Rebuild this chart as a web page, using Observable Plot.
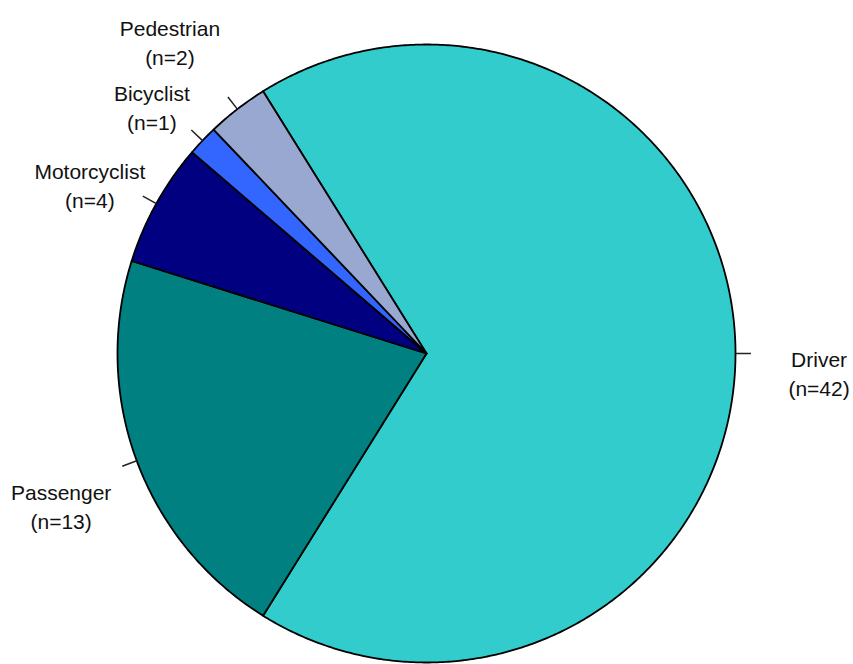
<!DOCTYPE html>
<html>
<head>
<meta charset="utf-8">
<script src="https://cdn.jsdelivr.net/npm/d3@7"></script>
<script src="https://cdn.jsdelivr.net/npm/@observablehq/plot@0.6"></script>
<style>
  html, body { margin: 0; padding: 0; background: #fff; }
  #chart svg { display: block; }
</style>
</head>
<body>
<div id="chart"></div>
<script>
// ---- Data ----
const categories = ["Driver", "Passenger", "Motorcyclist", "Bicyclist", "Pedestrian"];
const counts = [42, 13, 4, 1, 2];

// ---- Styles ----
const colors = ["#33CCCC", "#008080", "#000080", "#3366FF", "#99A8D0"];

// ---- Label layout tweaks (radius factor, angle shift in degrees) ----
const labelRadius = [1.272, 1.28, 1.22, 1.197, 1.307];
const labelShift = [2.8, -2.2, -2.3, -1.5, -1.7];

const total = d3.sum(counts);
const offset = Math.PI / 2 - (counts[0] / total) * Math.PI;
const arcs = d3.pie().sort(null).startAngle(offset).endAngle(offset + 2 * Math.PI)(counts);

// slice polygons (in unit-circle coordinates, y up)
const slicePts = [];
arcs.forEach((a, i) => {
  const cat = categories[i];
  slicePts.push({cat, x: 0, y: 0});
  const n = Math.max(2, Math.ceil((a.endAngle - a.startAngle) / (Math.PI / 360)));
  for (let k = 0; k <= n; k++) {
    const t = a.startAngle + (a.endAngle - a.startAngle) * k / n;
    slicePts.push({cat, x: Math.sin(t), y: Math.cos(t)});
  }
  slicePts.push({cat, x: 0, y: 0});
});

const ticks = arcs.map((a, i) => {
  const m = (a.startAngle + a.endAngle) / 2;
  return {x1: Math.sin(m), y1: Math.cos(m), x2: 1.05 * Math.sin(m), y2: 1.05 * Math.cos(m)};
});

const labels = arcs.map((a, i) => {
  const m = (a.startAngle + a.endAngle) / 2 + labelShift[i] * Math.PI / 180;
  return {
    x: labelRadius[i] * Math.sin(m),
    y: labelRadius[i] * Math.cos(m),
    text: `${categories[i]}\n(n=${counts[i]})`
  };
});

const chart = Plot.plot({
  width: 853,
  height: 664,
  marginLeft: 117,
  marginRight: 118,
  marginTop: 44,
  marginBottom: 2,
  x: {domain: [-1, 1], axis: null},
  y: {domain: [-1, 1], axis: null},
  color: {domain: categories, range: colors},
  style: {fontFamily: "'Liberation Sans', Arial, sans-serif", background: "white", overflow: "visible"},
  marks: [
    Plot.line(slicePts, {x: "x", y: "y", z: "cat", fill: "cat", stroke: "black", strokeWidth: 1.8, strokeLinejoin: "round"}),
    Plot.link(ticks, {x1: "x1", y1: "y1", x2: "x2", y2: "y2", stroke: "#222", strokeWidth: 1.5}),
    Plot.text(labels, {x: "x", y: "y", text: "text", fontSize: 21, lineHeight: 1.38, fill: "#111", textAnchor: "middle", lineAnchor: "middle"})
  ]
});
document.getElementById("chart").appendChild(chart);
</script>
</body>
</html>
